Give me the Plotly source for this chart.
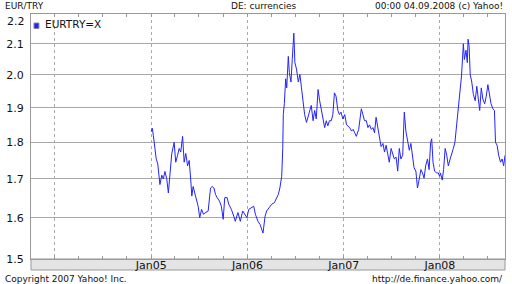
import plotly.graph_objects as go
import math

# ---- data ----
dates = [
    "2005-01-01","2005-01-05","2005-01-09","2005-01-15","2005-01-20","2005-01-26","2005-02-03","2005-02-10",
    "2005-02-16","2005-02-22","2005-03-01","2005-03-07","2005-03-13","2005-03-20","2005-03-29","2005-04-04",
    "2005-04-11","2005-04-17","2005-04-23","2005-04-30","2005-05-06","2005-05-12","2005-05-19","2005-05-25",
    "2005-05-31","2005-06-04","2005-06-09","2005-06-15","2005-06-21","2005-06-28","2005-07-04","2005-07-11",
    "2005-07-18","2005-07-26","2005-08-05","2005-08-14","2005-08-20","2005-08-27","2005-09-02","2005-09-08",
    "2005-09-17","2005-09-24","2005-10-01","2005-10-07","2005-10-16","2005-10-22","2005-11-01","2005-11-10",
    "2005-11-16","2005-11-26","2005-12-05","2005-12-14","2005-12-21","2005-12-30",
    "2006-01-06","2006-01-16","2006-01-25","2006-01-31","2006-02-10","2006-02-18","2006-03-01","2006-03-09",
    "2006-03-15","2006-03-24","2006-04-03","2006-04-13","2006-04-22","2006-04-28","2006-05-04","2006-05-11",
    "2006-05-15","2006-05-17","2006-05-21","2006-05-26","2006-05-30","2006-06-05","2006-06-09","2006-06-15",
    "2006-06-20","2006-06-26","2006-06-30","2006-07-06","2006-07-13","2006-07-19","2006-07-25","2006-07-31",
    "2006-08-06","2006-08-13","2006-08-19","2006-08-25","2006-08-31","2006-09-07","2006-09-13","2006-09-19",
    "2006-09-26","2006-10-02","2006-10-08","2006-10-15","2006-10-21","2006-10-27","2006-11-02","2006-11-08",
    "2006-11-15","2006-11-21","2006-11-27","2006-12-03","2006-12-10","2006-12-16","2006-12-22","2006-12-29",
    "2007-01-05","2007-01-12","2007-01-18","2007-01-24","2007-01-31","2007-02-06","2007-02-12","2007-02-18",
    "2007-02-27","2007-03-05","2007-03-09","2007-03-15","2007-03-21","2007-03-28","2007-04-03","2007-04-09",
    "2007-04-16","2007-04-22","2007-04-28","2007-05-04","2007-05-11","2007-05-17","2007-05-23","2007-05-30",
    "2007-06-05","2007-06-11","2007-06-17","2007-06-23","2007-06-30","2007-07-06","2007-07-12","2007-07-19",
    "2007-07-25","2007-07-31","2007-08-06","2007-08-13","2007-08-19","2007-08-25","2007-09-01","2007-09-07",
    "2007-09-13","2007-09-19","2007-09-25","2007-10-02","2007-10-08","2007-10-14","2007-10-21","2007-10-27",
    "2007-11-02","2007-11-08","2007-11-15","2007-11-21","2007-11-27","2007-12-01","2007-12-06","2007-12-12",
    "2007-12-19","2007-12-26","2007-12-31",
    "2008-01-03","2008-01-10","2008-01-15","2008-01-21","2008-01-27","2008-02-02","2008-02-09","2008-02-15",
    "2008-02-21","2008-02-27","2008-03-05","2008-03-11","2008-03-17","2008-03-23","2008-03-30","2008-04-03",
    "2008-04-09","2008-04-14","2008-04-17","2008-04-21","2008-04-25","2008-05-01","2008-05-07","2008-05-14",
    "2008-05-20","2008-05-26","2008-05-31","2008-06-06","2008-06-12","2008-06-19","2008-06-25","2008-07-01",
    "2008-07-07","2008-07-13","2008-07-20","2008-07-26","2008-07-30","2008-08-05","2008-08-11","2008-08-18",
    "2008-08-24","2008-08-30","2008-09-04",
]
eurtry = [
    1.83,1.84,1.82,1.78,1.754,1.74,1.685,1.71,
    1.70,1.72,1.70,1.663,1.711,1.769,1.80,1.745,
    1.764,1.783,1.773,1.817,1.745,1.769,1.735,1.75,
    1.697,1.655,1.68,1.663,1.642,1.629,1.60,1.621,
    1.609,1.613,1.617,1.676,1.68,1.676,1.659,1.651,
    1.642,1.629,1.596,1.651,1.651,1.634,1.621,1.604,
    1.591,1.613,1.591,1.617,1.609,1.60,
    1.621,1.625,1.629,1.609,1.591,1.583,1.562,1.604,
    1.617,1.625,1.634,1.638,1.651,1.659,1.676,1.707,
    1.783,1.88,1.912,1.988,1.96,2.059,2.007,1.978,
    2.049,2.135,2.039,2.019,1.978,2.002,1.96,1.921,
    1.88,1.857,1.872,1.892,1.907,1.862,1.892,1.867,
    1.955,1.921,1.892,1.857,1.842,1.862,1.847,1.862,
    1.862,1.88,1.945,1.935,1.892,1.88,1.887,1.867,
    1.88,1.85,1.847,1.842,1.832,1.837,1.827,1.817,
    1.837,1.887,1.897,1.88,1.862,1.862,1.842,1.85,
    1.837,1.842,1.827,1.872,1.842,1.812,1.788,1.797,
    1.773,1.792,1.764,1.745,1.783,1.764,1.754,1.759,
    1.721,1.783,1.754,1.764,1.887,1.832,1.797,1.778,
    1.797,1.764,1.73,1.721,1.676,1.697,1.725,1.716,
    1.702,1.735,1.754,1.725,1.80,1.81,1.745,1.721,
    1.716,1.716,1.707,
    1.716,1.697,1.725,1.783,1.764,1.735,1.754,1.773,
    1.783,1.80,1.85,1.902,1.94,1.997,2.10,2.049,
    2.079,2.039,2.115,2.09,2.002,1.978,1.94,1.921,
    1.965,1.912,1.892,1.96,1.926,1.912,1.935,1.97,
    1.94,1.912,1.897,1.892,1.80,1.792,1.764,1.745,
    1.754,1.735,1.764,
]
x_ticks = ["2004-01-01", "2005-01-01", "2006-01-01", "2007-01-01", "2008-01-01"]
x_tick_labels = ["", "Jan05", "Jan06", "Jan07", "Jan08"]
y_ticks = [1.5, 1.6, 1.7, 1.8, 1.9, 2.0, 2.1]
y_tick_labels = ["1.5", "1.6", "1.7", "1.8", "1.9", "2.0", "2.1"]
x_range = ["2003-10-03", "2008-09-04"]
y_range = [1.5, 2.2]
series_name = "EURTRY=X"

# ---- layout geometry (pixels) ----
W, H = 512, 284
L, R, T, B = 28, 506, 14, 259

def px(x):
    return (x - L) / (R - L)

def py(y):
    return (B - y) / (B - T)

FONT = "DejaVu Sans"
GRID = "#a8a8a8"
BORDER = "#999999"

fig = go.Figure()
fig.add_trace(go.Scatter(
    x=dates, y=eurtry, mode="lines", name=series_name,
    line=dict(color="#2323ff", width=1), showlegend=False, hoverinfo="skip",
))

fig.update_layout(
    width=W, height=H, autosize=False,
    margin=dict(l=L, r=W - R, t=T, b=H - B, pad=0),
    paper_bgcolor="white", plot_bgcolor="white",
    font=dict(family=FONT, size=11, color="#111"),
    xaxis=dict(
        type="date", range=x_range,
        tickvals=x_ticks, ticktext=x_tick_labels,
        ticks="", ticklabelstandoff=-4,
        showgrid=True, gridcolor=GRID, gridwidth=1, griddash="3px,3px",
        showline=True, linecolor=BORDER, linewidth=1, mirror="allticks",
        minor=dict(dtick="M3", tick0="2004-01-01", ticks="inside", ticklen=3,
                   tickcolor=BORDER, showgrid=False),
        tickfont=dict(family=FONT, size=11, color="#111"),
        zeroline=False,
    ),
    yaxis=dict(
        type="log", range=[math.log10(y_range[0]), math.log10(y_range[1])],
        tickvals=y_ticks, ticktext=y_tick_labels, ticks="",
        ticklabelstandoff=4,
        showgrid=True, gridcolor=GRID, gridwidth=1,
        showline=True, linecolor=BORDER, linewidth=1, mirror=True,
        tickfont=dict(family=FONT, size=11, color="#111"),
        zeroline=False,
    ),
)

# grey date band under the plot
fig.add_shape(type="rect", xref="paper", yref="paper",
              x0=0, x1=1, y0=py(270), y1=0,
              fillcolor="#e4e4e4", line=dict(color=BORDER, width=1), layer="below")

# legend square
fig.add_shape(type="rect", xref="paper", yref="paper",
              x0=px(31), x1=px(36), y0=py(28.5), y1=py(23),
              fillcolor="#2323ff", line=dict(color="#8888aa", width=1))

def ann(text, x, y, xanchor, size):
    fig.add_annotation(text=text, x=px(x), y=py(y), xref="paper", yref="paper",
                       xanchor=xanchor, yanchor="middle", showarrow=False,
                       font=dict(family=FONT, size=size, color="#111"))

ann(series_name, 40, 23.5, "left", 10.5)
ann("2.2", 24, 22, "right", 11)
ann("EUR/TRY", 0, 6, "left", 9)
ann("DE: currencies", 262, 6, "center", 9)
ann("00:00 04.09.2008 (c) Yahoo!", 506, 6, "right", 9)
ann("Copyright 2007 Yahoo! Inc.", 0, 279, "left", 9)
ann("http://de.finance.yahoo.com/", 506, 279, "right", 9)

fig.write_html("out.html")
